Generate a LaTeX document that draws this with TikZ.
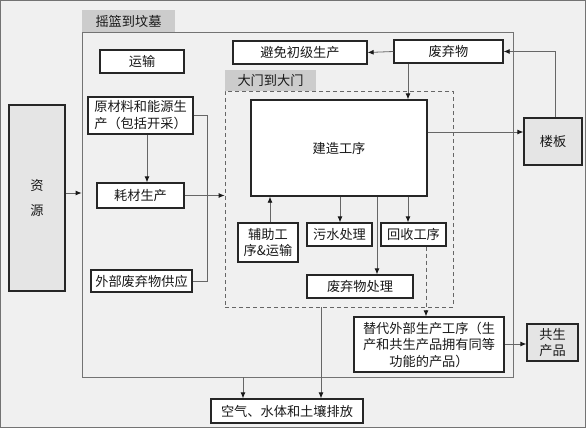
\documentclass[tikz,border=0pt]{standalone}
\usepackage{fontspec}
\setmainfont{Noto Sans CJK SC}
\usetikzlibrary{arrows.meta}
\begin{document}
\begin{tikzpicture}[x=1pt,y=-1pt,font=\fontsize{13.2pt}{16pt}\selectfont,
  box/.style={draw=black!85,line width=1.3pt,fill=white,inner sep=0pt,text=black!90,align=center},
  gbox/.style={box,fill=black!10},
  tab/.style={fill=black!20,inner sep=0pt,text=black!90},
  line/.style={draw=black!60,line width=0.8pt},
  tip/.style={-{Latex[length=6pt,width=5pt,color=black!90,fill=black!90]}},
  arr/.style={line,tip},
  dsh/.style={draw=black!60,line width=0.8pt,dash pattern=on 4pt off 3pt}]
\useasboundingbox (0,0) rectangle (586,428);
\draw[fill=black!6,draw=black!55,line width=0.8pt] (0.5,0.5) rectangle (585.5,427.5);
% cradle to grave
\node[draw=black!55,line width=0.8pt,minimum width=431pt,minimum height=345pt,inner sep=0pt] (cradle) at (297.5,204.5) {};
\node[tab,minimum width=93pt,minimum height=22pt] (ctab) at (128.5,21) {摇篮到坟墓};
% gate to gate
\node[dsh,minimum width=228pt,minimum height=216pt,inner sep=0pt] (gate) at (339,199) {};
\node[tab,minimum width=91pt,minimum height=21pt] (gtab) at (270.5,80.5) {大门到大门};
% boxes
\node[gbox,minimum width=56pt,minimum height=186pt] (res) at (37,198) {资\\[9pt]源};
\node[box,minimum width=84pt,minimum height=23pt] (trans) at (142,61.5) {运输};
\node[box,minimum width=105pt,minimum height=37pt,align=left,font=\fontsize{13.2pt}{17pt}\selectfont] (raw) at (140.5,115.5) {原材料和能源生\\产（包括开采）};
\node[box,minimum width=87pt,minimum height=25pt] (cons) at (140.5,195.5) {耗材生产};
\node[box,minimum width=101pt,minimum height=22pt] (ext) at (141.5,281) {外部废弃物供应};
\node[box,minimum width=134pt,minimum height=23pt] (avoid) at (300,52.5) {避免初级生产};
\node[box,minimum width=109pt,minimum height=23pt] (waste) at (448.5,51.5) {废弃物};
\node[box,minimum width=176pt,minimum height=96pt] (build) at (339,148) {建造工序};
\node[gbox,minimum width=58pt,minimum height=47pt] (floor) at (553,141.5) {楼板};
\node[box,minimum width=60pt,minimum height=39pt,font=\fontsize{13.2pt}{16.5pt}\selectfont] (aux) at (268,242.5) {辅助工\\序\&运输};
\node[box,minimum width=65pt,minimum height=23pt] (sew) at (339.5,234.5) {污水处理};
\node[box,minimum width=65pt,minimum height=23pt] (rec) at (413.5,234.5) {回收工序};
\node[box,minimum width=106pt,minimum height=23pt] (wproc) at (360,286.5) {废弃物处理};
\node[box,minimum width=150pt,minimum height=55pt,font=\fontsize{13.2pt}{16.5pt}\selectfont] (alt) at (429,344.5) {替代外部生产工序（生\\产和共生产品拥有同等\\功能的产品）};
\node[gbox,minimum width=51pt,minimum height=37pt,font=\fontsize{13.2pt}{16.5pt}\selectfont] (cop) at (552.5,342.5) {共生\\产品};
\node[box,minimum width=152pt,minimum height=24pt] (emis) at (287,411) {空气、水体和土壤排放};
% connectors
\draw[arr] (res.east |- 0,193) -- (cradle.west |- 0,193);
\draw[arr] (raw.south -| 147,0) -- (cons.north -| 147,0);
\draw[line] (raw.east) -| (207,281) -- (ext.east);
\draw[arr] (cons.east) -- (gate.west |- cons.east);
\draw[arr] (waste.west) -- (avoid.east);
\draw[arr] (waste.south -| 408,0) -- (build.north -| 408,0);
\draw[arr] (build.east |- 0,132) -- (floor.west |- 0,132);
\draw[arr] (floor.north -| 555,0) |- (waste.east);
\draw[arr] (build.south -| 340,0) -- (sew.north -| 340,0);
\draw[arr] (build.south -| 377,0) -- (wproc.north -| 377,0);
\draw[arr] (build.south -| 408,0) -- (rec.north -| 408,0);
\draw[arr] (aux.north -| 270,0) -- (build.south -| 270,0);
\draw[dsh,tip] (rec.south -| 426,0) -- (alt.north -| 426,0);
\draw[arr] (alt.east |- 0,344) -- (cop.west |- 0,344);
\draw[arr] (cradle.south -| 243,0) -- (emis.north -| 243,0);
\draw[arr] (gate.south -| 321,0) -- (emis.north -| 321,0);
\end{tikzpicture}
\end{document}
